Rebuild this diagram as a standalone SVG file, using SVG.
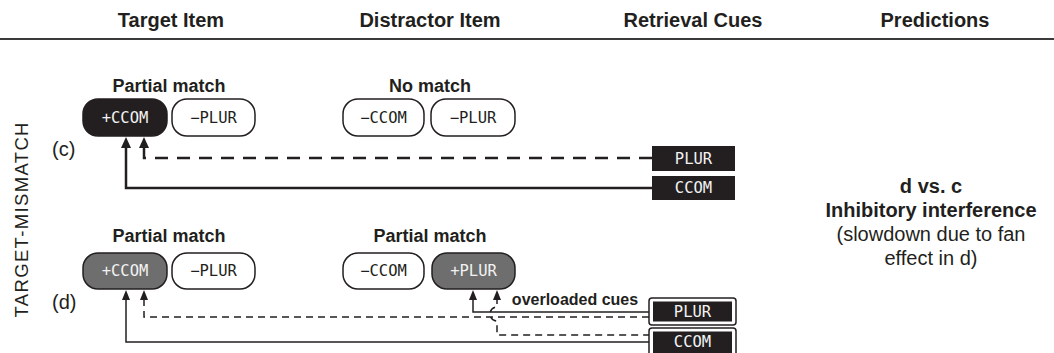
<svg xmlns="http://www.w3.org/2000/svg" width="1054" height="353" viewBox="0 0 1054 353">
<defs>
<style>
.hdr{font-family:"Liberation Sans",Arial,sans-serif;font-weight:bold;font-size:20px;fill:#231f20;text-anchor:middle}
.lbl{font-family:"Liberation Sans",Arial,sans-serif;font-weight:bold;font-size:18px;fill:#231f20;text-anchor:middle}
.reg{font-family:"Liberation Sans",Arial,sans-serif;font-size:20px;fill:#231f20}
.mono{font-family:"DejaVu Sans Mono",monospace;font-size:15.5px;text-anchor:middle}
.pw{fill:#fff;stroke:#231f20;stroke-width:1.5}
.pb{fill:#231f20;stroke:#231f20;stroke-width:1.5}
.pg{fill:#6e6e6e;stroke:#231f20;stroke-width:1.5}
.tw{fill:#231f20}
.tl{fill:#f2f2f2}
.thick{fill:none;stroke:#231f20;stroke-width:2.5}
.thin{fill:none;stroke:#231f20;stroke-width:1.5}
.dashT{stroke-dasharray:13 9}
.dashS{stroke-dasharray:7 5}
</style>
</defs>
<rect width="1054" height="353" fill="#fff"/>

<g id="headers">
<text class="hdr" x="171" y="27">Target Item</text>
<text class="hdr" x="430" y="27">Distractor Item</text>
<text class="hdr" x="693" y="27">Retrieval Cues</text>
<text class="hdr" x="935" y="27">Predictions</text>
<line x1="0" y1="39" x2="1054" y2="39" stroke="#3a3a3a" stroke-width="2"/>
</g>

<g id="side-label">
<text class="reg" style="font-size:18.5px" transform="translate(28,220) rotate(-90)" text-anchor="middle" textLength="195" lengthAdjust="spacing">TARGET-MISMATCH</text>
<text class="reg" x="52" y="156">(c)</text>
<text class="reg" x="52" y="309">(d)</text>
</g>

<g id="connectors">
<path class="thick" d="M652,188 H126 V146" />
<path class="thick dashT" d="M652,158 H144 V146" />
<path d="M126,137 L131,148 L121,148 Z" fill="#231f20"/>
<path d="M144,137 L149,148 L139,148 Z" fill="#231f20"/>

<path class="thin" d="M649,342 H126 V297" />
<path class="thin dashS" d="M649,317 H144 V297" />
<path d="M126,290 L130,300 L122,300 Z" fill="#231f20"/>
<path d="M144,290 L148,300 L140,300 Z" fill="#231f20"/>

<path class="thin" d="M649,312 H473 V297" />
<path class="thin dashS" d="M497,297 V307 A7,7 0 0 0 497,321 V335 H649" />
<path d="M473,290 L477,300 L469,300 Z" fill="#231f20"/>
<path d="M497,290 L501,300 L493,300 Z" fill="#231f20"/>
</g>

<g id="row-c-target">
<text class="lbl" x="169" y="92">Partial match</text>
<rect class="pb" x="83" y="99" width="84" height="37" rx="15"/>
<text class="mono tl" x="125" y="123">+CCOM</text>
<rect class="pw" x="172" y="99" width="83" height="37" rx="15"/>
<text class="mono tw" x="213.5" y="123">−PLUR</text>
</g>

<g id="row-c-distractor">
<text class="lbl" x="430" y="92">No match</text>
<rect class="pw" x="343" y="99" width="81" height="37" rx="15"/>
<text class="mono tw" x="383.5" y="123">−CCOM</text>
<rect class="pw" x="431" y="99" width="84" height="37" rx="15"/>
<text class="mono tw" x="473" y="123">−PLUR</text>
</g>

<g id="row-c-cues">
<rect x="652" y="146" width="83" height="25" fill="#231f20"/>
<text class="mono tl" x="693.5" y="164">PLUR</text>
<rect x="652" y="176" width="83" height="24" fill="#231f20"/>
<text class="mono tl" x="693.5" y="193">CCOM</text>
</g>

<g id="row-d-target">
<text class="lbl" x="169" y="242">Partial match</text>
<rect class="pg" x="83" y="253" width="84" height="36" rx="15"/>
<text class="mono tl" x="125" y="276">+CCOM</text>
<rect class="pw" x="172" y="253" width="83" height="36" rx="15"/>
<text class="mono tw" x="213.5" y="276">−PLUR</text>
</g>

<g id="row-d-distractor">
<text class="lbl" x="430" y="242">Partial match</text>
<rect class="pw" x="343" y="253" width="81" height="36" rx="15"/>
<text class="mono tw" x="383.5" y="276">−CCOM</text>
<rect class="pg" x="432" y="253" width="83" height="36" rx="15"/>
<text class="mono tl" x="473.5" y="276">+PLUR</text>
</g>

<g id="row-d-cues">
<text class="lbl" x="575" y="305" style="font-size:16px">overloaded cues</text>
<rect x="649" y="298" width="87" height="27" rx="3" fill="#fff" stroke="#231f20" stroke-width="1.5"/>
<rect x="653" y="301.5" width="79" height="20" fill="#231f20"/>
<text class="mono tl" x="692.5" y="317">PLUR</text>
<rect x="649" y="328" width="87" height="30" rx="3" fill="#fff" stroke="#231f20" stroke-width="1.5"/>
<rect x="653" y="331.5" width="79" height="24" fill="#231f20"/>
<text class="mono tl" x="692.5" y="347">CCOM</text>
</g>

<g id="predictions">
<text class="hdr" x="931" y="193">d vs. c</text>
<text class="hdr" x="931" y="217">Inhibitory interference</text>
<text class="reg" x="931" y="241" text-anchor="middle">(slowdown due to fan</text>
<text class="reg" x="931" y="265" text-anchor="middle">effect in d)</text>
</g>
</svg>
